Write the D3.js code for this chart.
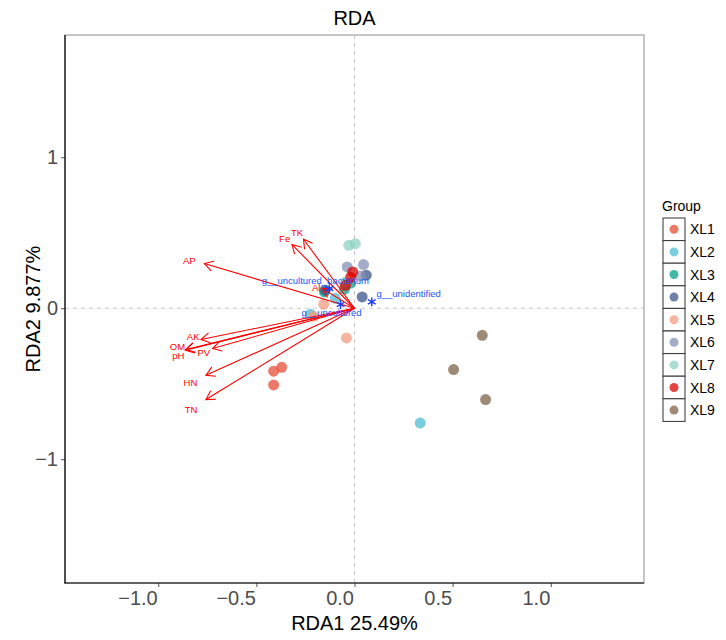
<!DOCTYPE html>
<html><head><meta charset="utf-8">
<script src="https://cdn.jsdelivr.net/npm/d3@7"></script>
<style>body{margin:0;background:#fff;} text{font-family:"Liberation Sans",Arial,Helvetica,sans-serif;}</style>
</head><body><svg id="c" width="726" height="640"></svg>
<script>
// ---------------- DATA ----------------
const groups = ["XL1","XL2","XL3","XL4","XL5","XL6","XL7","XL8","XL9"];
const groupColors = ["#E64B35","#4DBBD5","#00A087","#3C5488","#F39B7F","#8491B4","#91D1C2","#DC0000","#7E6148"];
const sampleGroup = ["XL1","XL1","XL1","XL2","XL2","XL2","XL3","XL3","XL3","XL4","XL4","XL4","XL5","XL5","XL5","XL6","XL6","XL6","XL7","XL7","XL7","XL8","XL8","XL8","XL9","XL9","XL9"];
const sampleRDA1 = [-0.412,-0.371,-0.412, 0.335,-0.224,-0.098, -0.051,-0.153,-0.020, 0.039,0.060,-0.150, -0.041,-0.157,-0.209, -0.037,0.046,0.031, -0.029,0.004,-0.050, -0.009,-0.020,-0.046, 0.651,0.505,0.668];
const sampleRDA2 = [-0.417,-0.391,-0.508, -0.760,-0.040,0.066, 0.126,0.108,0.166, 0.075,0.219,0.120, -0.197,0.026,-0.053, 0.274,0.289,0.214, 0.417,0.428,0.170, 0.240,0.205,0.152, -0.179,-0.406,-0.605];

const envNames = ["AP","Fe","TK","Al","AK","OM","pH","PV","HN","TN"];
const envRDA1 = [-0.765,-0.318,-0.260,-0.162,-0.782,-0.859,-0.862,-0.723,-0.757,-0.757];
const envRDA2 = [0.296,0.422,0.457,0.130,-0.207,-0.274,-0.278,-0.267,-0.444,-0.605];
const envLabelRDA1 = [-0.842,-0.356,-0.293,-0.195,-0.822,-0.902,-0.898,-0.768,-0.836,-0.833];
const envLabelRDA2 = [0.318,0.462,0.500,0.135,-0.190,-0.252,-0.316,-0.295,-0.494,-0.669];

const spNames = ["g__unidentified","g__uncultured_bacterium","g__uncultured"];
const spRDA1 = [0.088,-0.128,-0.071];
const spRDA2 = [0.042,0.130,0.025];
const spLabelRDA1 = [0.276,-0.200,-0.117];
const spLabelRDA2 = [0.097,0.185,-0.031];

const xTicks = [-1.0,-0.5,0.0,0.5,1.0];
const yTicks = [-1,0,1];
const title = "RDA", xTitle = "RDA1 25.49%", yTitle = "RDA2 9.877%";

// ---------------- CHART ----------------
const svg = d3.select("#c");
const L=65,R=644,T=35,B=583;
const x = d3.scaleLinear().domain([-1.475,1.475]).range([L,R]);
const y = d3.scaleLinear().domain([-1.82,1.81]).range([B,T]);
const color = d3.scaleOrdinal().domain(groups).range(groupColors);
const fmtMinus = s => s.replace("-","\u2212");

svg.append("rect").attr("x",L).attr("y",T).attr("width",R-L).attr("height",B-T)
  .attr("fill","#fff").attr("stroke","#8c8c8c").attr("stroke-width",1);

// reference lines
svg.append("line").attr("x1",x(0)).attr("x2",x(0)).attr("y1",T).attr("y2",B)
  .attr("stroke","#c8c8c8").attr("stroke-dasharray","4,4").attr("stroke-width",1);
svg.append("line").attr("x1",L).attr("x2",R).attr("y1",y(0)).attr("y2",y(0))
  .attr("stroke","#c8c8c8").attr("stroke-dasharray","4,4").attr("stroke-width",1);

// axes
const xAxis = d3.axisBottom(x).tickValues(xTicks).tickSize(4).tickPadding(4)
  .tickFormat(d => fmtMinus(d3.format(".1f")(d)));
const gx = svg.append("g").attr("transform",`translate(0,${B})`).call(xAxis);
gx.select(".domain").remove();
gx.selectAll(".tick line").attr("stroke","#555");
gx.selectAll("text").attr("fill","#4d4d4d").attr("text-anchor","end").attr("x",-1).style("font-size","20px");

const yAxis = d3.axisLeft(y).tickValues(yTicks).tickSize(4).tickPadding(3)
  .tickFormat(d => fmtMinus(d3.format("d")(d)));
const gy = svg.append("g").attr("transform",`translate(${L},0)`).call(yAxis);
gy.select(".domain").remove();
gy.selectAll(".tick line").attr("stroke","#555");
gy.selectAll("text").attr("fill","#4d4d4d").style("font-size","20px");

// axis lines
svg.append("line").attr("x1",L).attr("x2",L).attr("y1",T).attr("y2",B+0.5).attr("stroke","#000").attr("stroke-width",1.2);
svg.append("line").attr("x1",L-0.5).attr("x2",R).attr("y1",B).attr("y2",B).attr("stroke","#000").attr("stroke-width",1.2);

// titles
svg.append("text").attr("x",(L+R)/2).attr("y",25).attr("text-anchor","middle").style("font-size","20px").text(title);
svg.append("text").attr("x",(L+R)/2).attr("y",630).attr("text-anchor","middle").style("font-size","20px").text(xTitle);
svg.append("text").attr("transform",`translate(40,${(T+B)/2}) rotate(-90)`).attr("text-anchor","middle").style("font-size","20px").text(yTitle);

// points
const samples = sampleGroup.map((g,i)=>({g, x:sampleRDA1[i], y:sampleRDA2[i]}));
svg.append("g").selectAll("circle").data(samples).join("circle")
  .attr("cx",d=>x(d.x)).attr("cy",d=>y(d.y)).attr("r",5.5)
  .attr("fill",d=>color(d.g)).attr("fill-opacity",0.74);

// env arrows
const env = envNames.map((n,i)=>({n,x:envRDA1[i],y:envRDA2[i],lx:envLabelRDA1[i],ly:envLabelRDA2[i]}));
const ga = svg.append("g").attr("stroke","#FF0000").attr("stroke-width",1.1).attr("fill","none");
env.forEach(d=>{
  const x0=x(0),y0=y(0),x1=x(d.x),y1=y(d.y);
  ga.append("line").attr("x1",x0).attr("y1",y0).attr("x2",x1).attr("y2",y1);
  const a=Math.atan2(y1-y0,x1-x0), len=10, sp=Math.PI/6;
  const p1=[x1-len*Math.cos(a-sp), y1-len*Math.sin(a-sp)];
  const p2=[x1-len*Math.cos(a+sp), y1-len*Math.sin(a+sp)];
  ga.append("path").attr("d",`M${p1}L${x1},${y1}L${p2}`);
});
svg.append("g").selectAll("text").data(env).join("text")
  .attr("x",d=>x(d.lx)).attr("y",d=>y(d.ly)).attr("dy","0.35em")
  .attr("text-anchor","middle").attr("fill","#FF0000").style("font-size","9.5px").text(d=>d.n);

// species
const sp = spNames.map((n,i)=>({n,x:spRDA1[i],y:spRDA2[i],lx:spLabelRDA1[i],ly:spLabelRDA2[i]}));
svg.append("g").selectAll("path").data(sp).join("path")
  .attr("transform",d=>`translate(${x(d.x)},${y(d.y)})`)
  .attr("d",d3.symbol(d3.symbolAsterisk,55))
  .attr("stroke","#1a3cff").attr("stroke-width",1.4).attr("fill","none");
svg.append("g").selectAll("text").data(sp).join("text")
  .attr("x",d=>x(d.lx)).attr("y",d=>y(d.ly)).attr("dy","0.35em")
  .attr("text-anchor","middle").attr("fill","#2255ff").style("font-size","9.5px").text(d=>d.n);

// legend
const lg = svg.append("g");
lg.append("text").attr("x",662).attr("y",211).style("font-size","14px").text("Group");
groups.forEach((g,i)=>{
  const ky=218+i*22.6;
  lg.append("rect").attr("x",663).attr("y",ky).attr("width",22).attr("height",22.6)
    .attr("fill","#fff").attr("stroke","#333").attr("stroke-width",1);
  lg.append("circle").attr("cx",674).attr("cy",ky+11.3).attr("r",4.5)
    .attr("fill",color(g)).attr("fill-opacity",0.74);
  lg.append("text").attr("x",690).attr("y",ky+11.3).attr("dy","0.36em").style("font-size","14px").text(g);
});
</script></body></html>
